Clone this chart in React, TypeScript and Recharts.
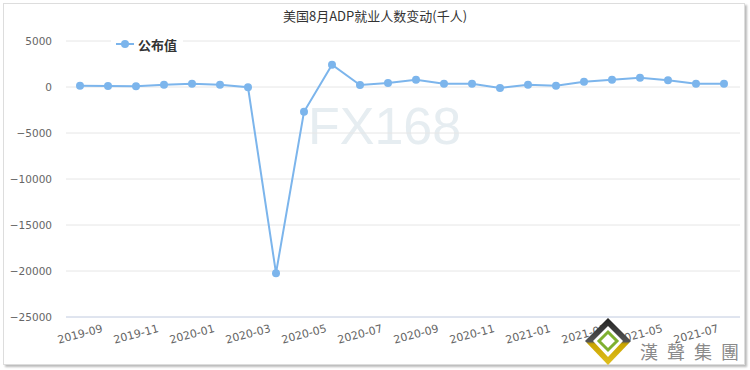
import React from 'react';
import { LineChart, Line, XAxis, YAxis, CartesianGrid, Legend } from 'recharts';

const months = [
  '2019-09', '2019-10', '2019-11', '2019-12', '2020-01', '2020-02', '2020-03', '2020-04',
  '2020-05', '2020-06', '2020-07', '2020-08', '2020-09', '2020-10', '2020-11', '2020-12',
  '2021-01', '2021-02', '2021-03', '2021-04', '2021-05', '2021-06', '2021-07', '2021-08',
];
const values = [
  141, 109, 76, 250, 359, 250, -27, -20236,
  -2690, 2420, 212, 435, 797, 359, 359, -109,
  250, 141, 576, 794, 1011, 728, 359, 365,
];
const yTicks = [-25000, -20000, -15000, -10000, -5000, 0, 5000];
const title = '美国8月ADP就业人数变动(千人)';
const seriesName = '公布值';
const watermark = 'FX168';
const brand = '漢聲集團';

const data = months.map((m, i) => ({ month: m, value: values[i] }));

const FONT = '"DejaVu Sans", "Noto Sans CJK SC", sans-serif';
const CJK = '"Noto Sans CJK SC", "DejaVu Sans", sans-serif';
const COLOR = '#7cb5ec';

const fmtY = (v: number) => (v < 0 ? '\u2212' + Math.abs(v) : String(v));

const XTick = (props: any) => {
  const { x, y, payload } = props;
  const cy = y + 9;
  return (
    <text
      x={x}
      y={cy}
      dy="0.35em"
      textAnchor="middle"
      transform={`rotate(-15 ${x} ${cy})`}
      fill="#666"
      fontSize={11}
      fontFamily={FONT}
    >
      {payload.value}
    </text>
  );
};

const LegendContent = () => (
  <div style={{ display: 'flex', alignItems: 'center', background: '#fff', padding: '0 6px 0 5px', height: 16 }}>
    <svg width={18} height={12} style={{ marginRight: 4 }}>
      <line x1={0} y1={6} x2={18} y2={6} stroke={COLOR} strokeWidth={2} />
      <circle cx={9} cy={6} r={4} fill={COLOR} />
    </svg>
    <span style={{ fontFamily: CJK, fontSize: 13, fontWeight: 'bold', color: '#333' }}>{seriesName}</span>
  </div>
);

export default function App() {
  return (
    <div style={{ position: 'absolute', left: 0, top: 0, width: 750, height: 370, background: '#fff' }}>
      <div
        style={{
          position: 'absolute', left: 3, top: 3, width: 740, height: 360,
          border: '1px solid #ddd', boxShadow: '2px 2px 2px #bbb', background: '#fff',
        }}
      />
      <div
        style={{
          position: 'absolute', left: 0, top: 8, width: 750, textAlign: 'center',
          fontFamily: CJK, fontSize: 13, color: '#333', lineHeight: '16px',
        }}
      >
        {title}
      </div>
      <div
        style={{
          position: 'absolute', left: 308, top: 96, fontFamily: '"Liberation Sans", Arial, sans-serif',
          fontSize: 52, color: '#e6edf1', lineHeight: '60px',
        }}
      >
        {watermark}
      </div>
      <div style={{ position: 'absolute', left: 0, top: 0 }}>
        <LineChart width={750} height={370} data={data} margin={{ top: 41, right: 10, bottom: 13, left: 0 }}>
          <CartesianGrid vertical={false} stroke="#e6e6e6" />
          <XAxis
            dataKey="month"
            interval={1}
            tick={<XTick />}
            tickLine={false}
            axisLine={{ stroke: '#ccd6eb' }}
            padding={{ left: 14, right: 16 }}
            height={40}
          />
          <YAxis
            domain={[-25000, 5000]}
            ticks={yTicks}
            width={66}
            axisLine={false}
            tickLine={false}
            tickSize={6}
            tickMargin={8}
            tickFormatter={fmtY}
            tick={{ fontSize: 10.5, fill: '#666', fontFamily: FONT }}
          />
          <Legend
            layout="horizontal"
            verticalAlign="middle"
            align="center"
            content={<LegendContent />}
            wrapperStyle={{ top: 36, left: 111, width: 'auto' }}
          />
          <Line
            type="linear"
            dataKey="value"
            name={seriesName}
            stroke={COLOR}
            strokeWidth={2}
            dot={{ r: 4, fill: COLOR, stroke: COLOR, strokeWidth: 0 }}
            activeDot={false}
            isAnimationActive={false}
          />
        </LineChart>
      </div>
      <svg style={{ position: 'absolute', left: 584, top: 317 }} width={50} height={50}>
        <defs>
          <linearGradient id="gold" x1="0" y1="0" x2="0" y2="1">
            <stop offset="0" stopColor="#222" />
            <stop offset="0.5" stopColor="#555" />
            <stop offset="0.55" stopColor="#c9a400" />
            <stop offset="1" stopColor="#e0c020" />
          </linearGradient>
        </defs>
        <polygon points="24,1 47,24 24,48 1,24" fill="url(#gold)" />
        <polygon points="24,9 39,24 24,40 9,24" fill="#fff" />
        <polygon points="24,15 33,24 24,33 15,24" fill="none" stroke="#7fb030" strokeWidth={3} />
      </svg>
      <div
        style={{
          position: 'absolute', left: 640, top: 340, fontFamily: CJK, fontSize: 18,
          color: '#8a8a8a', letterSpacing: 9, lineHeight: '22px', whiteSpace: 'nowrap',
        }}
      >
        {brand}
      </div>
    </div>
  );
}
